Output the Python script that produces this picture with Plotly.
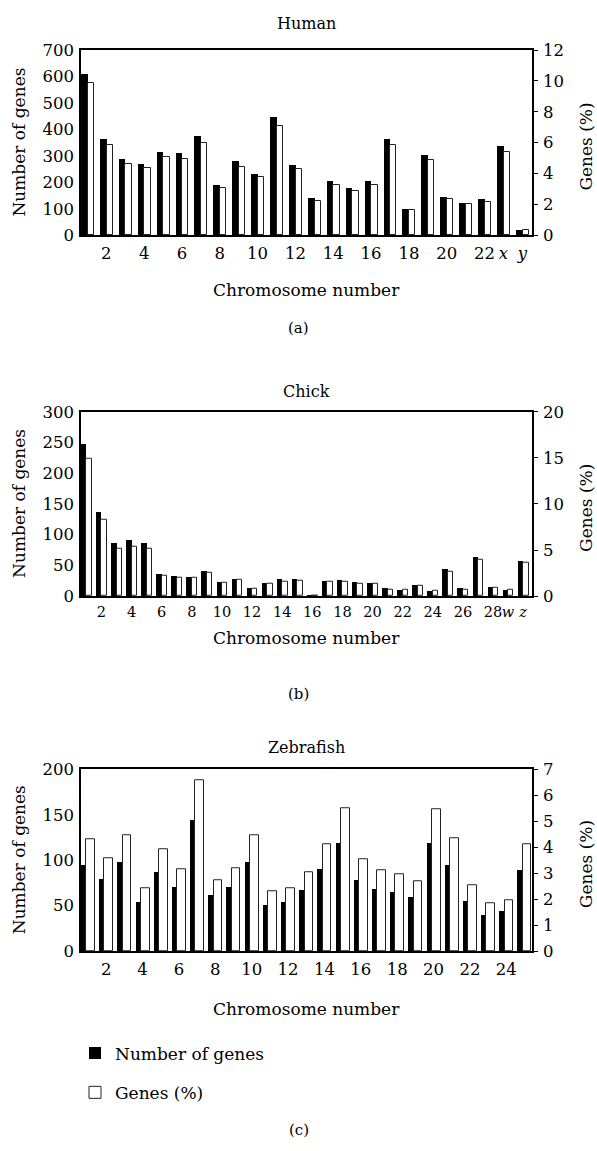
import plotly.graph_objects as go

# ---------------- data ----------------
human_chrom = [str(i) for i in range(1, 23)] + ["x", "y"]
human_genes = [611, 362, 289, 270, 316, 311, 375, 191, 280, 233, 445, 266,
               142, 205, 179, 205, 363, 99, 303, 146, 122, 135, 339, 19]
human_pct = [9.84, 5.82, 4.61, 4.38, 5.08, 4.93, 5.95, 3.04, 4.44, 3.74, 7.05, 4.30,
             2.24, 3.27, 2.87, 3.27, 5.82, 1.63, 4.86, 2.33, 2.00, 2.17, 5.39, 0.33]
human_xticks = ["2", "4", "6", "8", "10", "12", "14", "16", "18", "20", "22", "<i>x</i>", "<i>y</i>"]

chick_chrom = [str(i) for i in range(1, 29)] + ["w", "z"]
chick_genes = [248, 138, 87, 91, 87, 37, 34, 31, 42, 23, 29, 13, 22, 28, 29, 3,
               25, 26, 23, 22, 13, 11, 18, 9, 44, 13, 64, 16, 11, 58]
chick_pct = [14.85, 8.30, 5.10, 5.40, 5.10, 2.24, 1.95, 1.95, 2.49, 1.42, 1.81, 0.75,
             1.31, 1.56, 1.70, 0.05, 1.60, 1.60, 1.40, 1.35, 0.70, 0.70, 1.10, 0.55,
             2.70, 0.70, 3.90, 0.95, 0.70, 3.60]
chick_xticks = ["2", "4", "6", "8", "10", "12", "14", "16", "18", "20", "22", "24", "26", "28",
                "<i>w</i>", "<i>z</i>"]

zebra_chrom = [str(i) for i in range(1, 26)]
zebra_genes = [94, 79, 98, 54, 87, 70, 144, 61, 70, 98, 51, 54, 67, 90, 119, 78,
               68, 65, 59, 119, 94, 55, 39, 44, 89]
zebra_pct = [4.31, 3.56, 4.48, 2.42, 3.92, 3.15, 6.58, 2.73, 3.19, 4.48, 2.31, 2.42,
             3.05, 4.10, 5.50, 3.54, 3.12, 2.95, 2.71, 5.45, 4.34, 2.52, 1.83, 1.97, 4.10]
zebra_xticks = ["2", "4", "6", "8", "10", "12", "14", "16", "18", "20", "22", "24"]

# ---------------- layout helpers ----------------
W, H = 597, 1151
FONT = "DejaVu Serif"
TICK = 16.5
LAB = 17


def px(x):
    return x / W


def py(y):
    return 1 - y / H


X0, X1 = 81, 532

panels = [
    dict(title="Human", chrom=human_chrom, genes=human_genes, pct=human_pct, xt=human_xticks,
         lr=700, ld=100, rr=12, rd=2, top=41.7, bot=230, wb=0.35, ww=0.33, xend=0.35,
         ty=15, cy=286, lab="(a)", laby=324, xtick=TICK),
    dict(title="Chick", chrom=chick_chrom, genes=chick_genes, pct=chick_pct, xt=chick_xticks,
         lr=300, ld=50, rr=20, rd=5, top=409.5, bot=597, wb=0.36, ww=0.36, xend=0.45,
         ty=389, cy=640, lab="(b)", laby=697, xtick=14.5),
    dict(title="Zebrafish", chrom=zebra_chrom, genes=zebra_genes, pct=zebra_pct, xt=zebra_xticks,
         lr=200, ld=50, rr=7, rd=1, top=773, bot=958, wb=0.29, ww=0.48, xend=0.30,
         ty=751, cy=1017, lab="(c)", laby=1140, xtick=TICK),
]

fig = go.Figure()
annotations = []
layout = {}

for k, p in enumerate(panels):
    n = len(p["chrom"])
    xs = list(range(1, n + 1))
    xa = "x" if k == 0 else f"x{k + 1}"
    ya_l = "y" if k == 0 else f"y{2 * k + 1}"
    ya_r = f"y{2 * k + 2}"
    last = k == len(panels) - 1

    fig.add_trace(go.Bar(
        x=xs, y=p["genes"], xaxis=xa, yaxis=ya_l,
        offset=-0.5, width=p["wb"],
        marker=dict(color="black", line=dict(color="black", width=0)),
        name="Number of genes", showlegend=last, legend="legend",
        text=p["chrom"], hovertemplate="Chr %{text}: %{y}<extra></extra>",
        textposition="none",
    ))
    fig.add_trace(go.Bar(
        x=xs, y=p["pct"], xaxis=xa, yaxis=ya_r,
        offset=-0.5 + p["wb"], width=p["ww"],
        marker=dict(color="white", line=dict(color="#222222", width=1)),
        name="Genes (%)", showlegend=last, legend="legend2",
        text=p["chrom"], hovertemplate="Chr %{text}: %{y}%<extra></extra>",
        textposition="none",
    ))

    if p["title"] == "Human":
        tick_idx = list(range(2, 23, 2)) + [23, 24]
    elif p["title"] == "Chick":
        tick_idx = list(range(2, 29, 2)) + [29, 30]
    else:
        tick_idx = list(range(2, 25, 2))
    centre = -0.5 + (p["wb"] + p["ww"]) / 2
    tickvals = [i + centre for i in tick_idx]

    dom_y = [py(p["bot"]), py(p["top"])]
    xkey = "xaxis" if k == 0 else f"xaxis{k + 1}"
    ylkey = "yaxis" if k == 0 else f"yaxis{2 * k + 1}"
    yrkey = f"yaxis{2 * k + 2}"

    layout[xkey] = dict(
        domain=[px(X0), px(X1)], anchor=ya_l, range=[0.5, n + p["xend"]],
        tickmode="array", tickvals=tickvals, ticktext=p["xt"], ticks="", tickangle=0,
        showline=True, linecolor="black", linewidth=1.6, mirror=True,
        showgrid=False, zeroline=False, fixedrange=True,
        tickfont=dict(family=FONT, size=p["xtick"], color="black"), ticklabelstandoff=2,
    )
    layout[ylkey] = dict(
        domain=dom_y, anchor=xa, range=[0, p["lr"]], dtick=p["ld"], tick0=0,
        ticks="", showline=True, linecolor="black", linewidth=1.6,
        showgrid=False, zeroline=False,
        tickfont=dict(family=FONT, size=TICK, color="black"), ticklabelstandoff=2,
    )
    layout[yrkey] = dict(
        overlaying=ya_l, side="right", anchor=xa, range=[0, p["rr"]], dtick=p["rd"], tick0=0,
        ticks="outside", ticklen=4, tickwidth=1, tickcolor="black",
        showline=True, linecolor="black", linewidth=1.6,
        showgrid=False, zeroline=False,
        tickfont=dict(family=FONT, size=TICK, color="black"), ticklabelstandoff=2,
    )

    midy = (p["top"] + p["bot"]) / 2
    annotations += [
        dict(text=p["title"], x=px((X0 + X1) / 2), y=py(p["ty"]), xref="paper", yref="paper",
             showarrow=False, xanchor="center", yanchor="middle",
             font=dict(family=FONT, size=16, color="black")),
        dict(text="Chromosome number", x=px((X0 + X1) / 2), y=py(p["cy"]), xref="paper", yref="paper",
             showarrow=False, xanchor="center", yanchor="middle",
             font=dict(family=FONT, size=LAB, color="black")),
        dict(text=p["lab"], x=0.5, y=py(p["laby"]), xref="paper", yref="paper",
             showarrow=False, xanchor="center", yanchor="middle",
             font=dict(family=FONT, size=15, color="black")),
        dict(text="Number of genes", x=px(19), y=py(midy), xref="paper", yref="paper", textangle=-90,
             showarrow=False, xanchor="center", yanchor="middle",
             font=dict(family=FONT, size=LAB, color="black")),
        dict(text="Genes (%)", x=px(586), y=py(midy + 4), xref="paper", yref="paper", textangle=-90,
             showarrow=False, xanchor="center", yanchor="middle",
             font=dict(family=FONT, size=LAB, color="black")),
    ]

legfont = dict(family=FONT, size=LAB, color="black")
fig.update_layout(
    width=W, height=H, margin=dict(l=0, r=0, t=0, b=0),
    paper_bgcolor="white", plot_bgcolor="white",
    barmode="overlay", bargap=0,
    annotations=annotations,
    legend=dict(x=px(75), y=py(1062), xanchor="left", yanchor="middle", font=legfont,
                bgcolor="rgba(0,0,0,0)", borderwidth=0),
    legend2=dict(x=px(75), y=py(1102), xanchor="left", yanchor="middle", font=legfont,
                 bgcolor="rgba(0,0,0,0)", borderwidth=0),
    **layout,
)

fig.write_html("out.html")
